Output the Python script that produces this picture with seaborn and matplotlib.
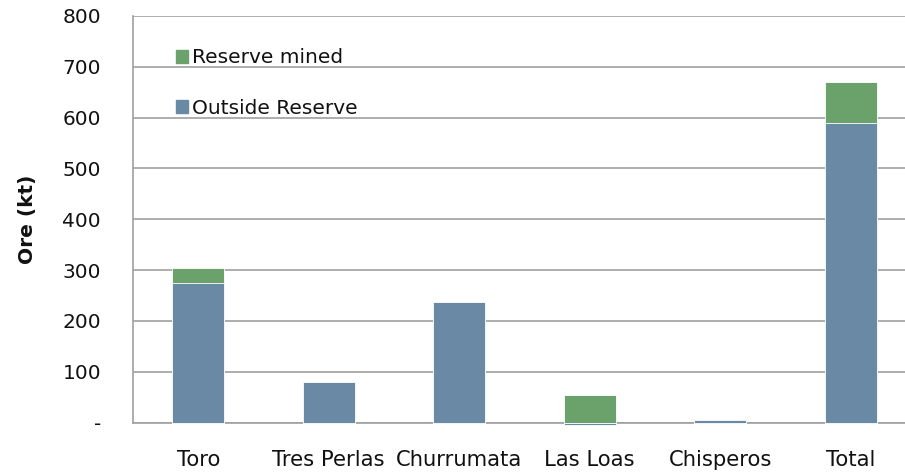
import matplotlib
matplotlib.use("Agg")
import matplotlib.pyplot as plt
import seaborn as sns
import numpy as np
import pandas as pd
from matplotlib.patches import Patch
from matplotlib.ticker import FuncFormatter, FixedLocator

# données
sites = ["Toro", "Tres Perlas", "Churrumata", "Las Loas", "Chisperos", "Total"]
outside_reserve = [275, 80, 237, -4, 6, 589]
reserve_mined = [29, 0, 0, 55, 0, 82]

blue = "#6A89A5"
green = "#6BA26B"
grid_col = "#A0A0A0"
txt = "#111111"

df = pd.DataFrame({"site": sites, "outside": outside_reserve, "mined": reserve_mined})
# haut de la pile: partie positive du bleu + vert
df["top"] = df["outside"].clip(lower=0) + df["mined"]

sns.set_style("white")
plt.rcParams["font.family"] = ["DejaVu Sans"]
fs = 14.5

fig = plt.figure(figsize=(9.05, 4.72), dpi=100)
# la zone de tracé dépasse légèrement le bord droit, comme l'original
ax = fig.add_axes([0.147, 0.1045, 0.865, 0.8617])

sns.barplot(data=df, x="site", y="top", color=green, width=0.4, ax=ax,
            saturation=1, edgecolor="white", linewidth=0.6, zorder=3)
sns.barplot(data=df, x="site", y="outside", color=blue, width=0.4, ax=ax,
            saturation=1, edgecolor="white", linewidth=0.6, zorder=3)
for p in ax.patches:
    p.set_clip_on(False)

ax.set_ylim(0, 800)
ax.set_xlim(-0.5, 5.5)
ax.set_yticks(np.arange(0, 801, 100))
ax.yaxis.set_major_formatter(FuncFormatter(lambda v, pos: "-" if v == 0 else f"{int(v)}"))
ax.grid(axis="y", color=grid_col, linewidth=1.2, zorder=0)
ax.set_axisbelow(True)

ax.xaxis.set_minor_locator(FixedLocator(np.arange(-0.5, 6, 1)))
ax.tick_params(axis="x", which="major", length=0, pad=20, labelsize=15.2, labelcolor=txt)
ax.tick_params(axis="x", which="minor", length=4.5, color=grid_col, width=1.2)
ax.tick_params(axis="y", length=4.5, color=grid_col, width=1.2, labelsize=fs,
               pad=18.6, labelcolor=txt)

for s in ["top", "right"]:
    ax.spines[s].set_visible(False)
for s in ["left", "bottom"]:
    ax.spines[s].set_color(grid_col)
    ax.spines[s].set_linewidth(1.2)

ax.set_xlabel("")
ax.set_ylabel("Ore (kt)", fontsize=fs, fontweight="bold", labelpad=18, color=txt)

handles = [Patch(color=green), Patch(color=blue)]
ax.legend(handles, ["Reserve mined", "Outside Reserve"], loc="upper left",
          bbox_to_anchor=(0.032, 0.965), frameon=False, fontsize=fs,
          handlelength=0.6, handleheight=0.6, handletextpad=0.2,
          labelspacing=1.55, labelcolor=txt)

fig.savefig("out.png", dpi=100)
